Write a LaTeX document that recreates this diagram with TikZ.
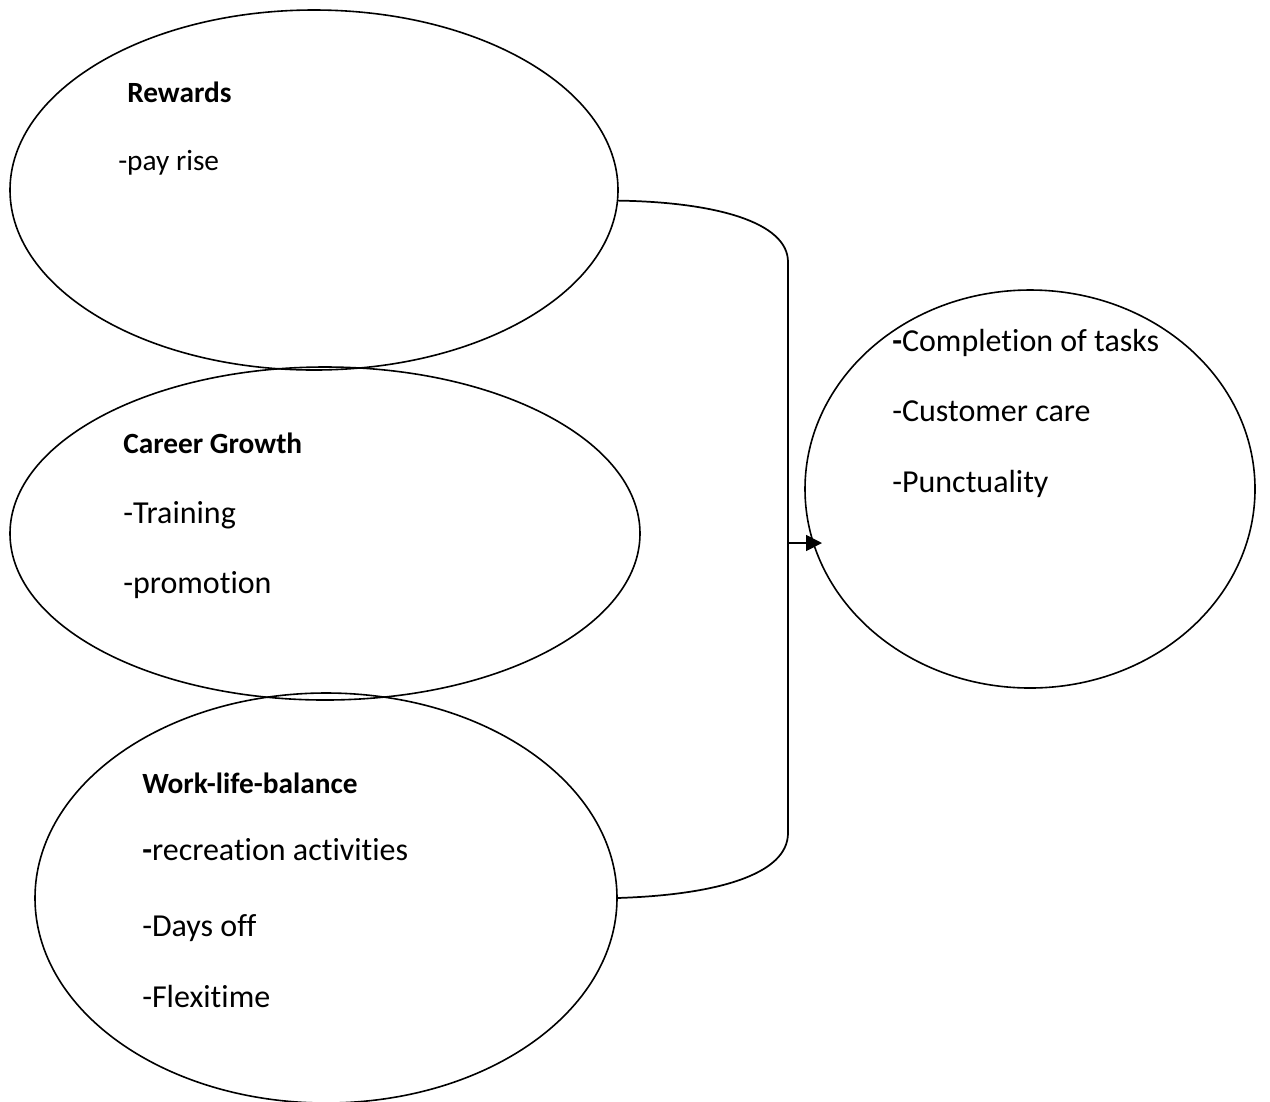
\documentclass[tikz,border=0pt]{standalone}
\usepackage{fontspec}
\setmainfont{Carlito}[Ligatures={NoCommon,NoRare,NoContextual}]
\usetikzlibrary{shapes.geometric,arrows.meta}
\begin{document}
\begin{tikzpicture}[x=0.75pt,y=-0.75pt,
  oval/.style={draw,ellipse,inner sep=0pt,outer sep=0pt,line width=1.2pt},
  head/.style={anchor=base west,inner sep=0pt,font=\fontsize{22}{26}\selectfont\bfseries},
  item/.style={anchor=base west,inner sep=0pt,font=\fontsize{24}{28}\selectfont},
  small/.style={anchor=base west,inner sep=0pt,font=\fontsize{22}{26}\selectfont},
  link/.style={line width=1.3pt}]
\useasboundingbox (0,0) rectangle (1270,1101);

% the three factor ovals and the outcome oval
\node[oval,minimum width=456pt,minimum height=270pt] (rew) at (314,190) {};
\node[oval,minimum width=472.5pt,minimum height=249.75pt] (car) at (325,533.5) {};
\node[oval,minimum width=436.5pt,minimum height=307.5pt] (wlb) at (326,898) {};
\node[oval,minimum width=337.5pt,minimum height=298.5pt] (res) at (1030,489) {};

% labels
\node[head] (rewT) at (127,102) {Rewards};
\node[small] (rew1) at (118,170) {-pay rise};

\node[head] (carT) at (123,453) {Career Growth};
\node[item] (car1) at (123,523) {-Training};
\node[item] (car2) at (123,593) {-promotion};

\node[head] (wlbT) at (142,793) {Work-life-balance};
\node[item] (wlb1) at (142,860) {\textbf{-}recreation activities};
\node[item] (wlb2) at (142,936) {-Days off};
\node[item] (wlb3) at (142,1007) {-Flexitime};

\node[item] (res1) at (892,351) {\textbf{-}Completion of tasks};
\node[item] (res2) at (892,421) {-Customer care};
\node[item] (res3) at (892,492) {-Punctuality};

% bracket joining the factors, and the arrow to the outcome
\coordinate (bt) at (788,262);
\coordinate (bb) at (788,833);
\coordinate (jn) at (788,543);
\coordinate (tip) at (822,543);
\draw[link] (rew.-2) .. controls (715,202) and (788,222) .. (bt) -- (bb)
  .. controls (788,875) and (715,895) .. (wlb.east);
\draw[link,-{Triangle[length=12pt,width=12pt]}] (jn) -- (tip);
\end{tikzpicture}
\end{document}
